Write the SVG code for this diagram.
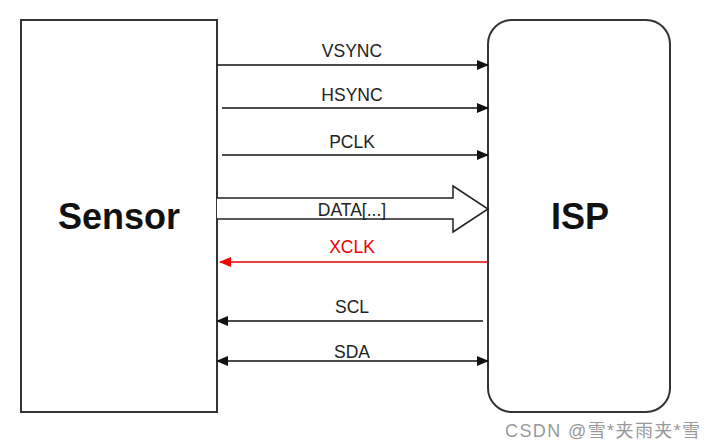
<svg xmlns="http://www.w3.org/2000/svg" width="715" height="448" viewBox="0 0 715 448">
<style>
.box{fill:#fff;stroke:#333;stroke-width:2}
.ln{stroke:#111;stroke-width:1.5;fill:none}
.red{stroke:#e00;stroke-width:1.5;fill:none}
.lbl{font-family:"Liberation Sans",Arial,sans-serif;font-size:17.5px;fill:#222;text-anchor:middle}
.big{font-family:"Liberation Sans",Arial,sans-serif;font-weight:bold;fill:#111;text-anchor:middle}
</style>
<defs>
<marker id="ah" markerWidth="12" markerHeight="12" refX="11" refY="6" orient="auto-start-reverse" markerUnits="userSpaceOnUse" viewBox="0 0 12 12"><path d="M0,1 L12,6 L0,11 Z" fill="#111"/></marker>
<marker id="ahr" markerWidth="12" markerHeight="12" refX="11" refY="6" orient="auto-start-reverse" markerUnits="userSpaceOnUse" viewBox="0 0 12 12"><path d="M0,1 L12,6 L0,11 Z" fill="#e00"/></marker>
</defs>
<rect width="715" height="448" fill="#fff"/>
<g id="sensor">
<rect class="box" x="21" y="20" width="196" height="392"/>
<text class="big" x="119" y="229" font-size="36">Sensor</text>
</g>
<g id="isp">
<rect class="box" x="488" y="20" width="182" height="392" rx="24" ry="24"/>
<text class="big" x="580" y="229" font-size="36">ISP</text>
</g>
<g id="connectors">
<line class="ln" x1="217" y1="65" x2="488" y2="65" marker-end="url(#ah)"/>
<text class="lbl" x="352" y="57">VSYNC</text>
<line class="ln" x1="222" y1="108" x2="488" y2="108" marker-end="url(#ah)"/>
<text class="lbl" x="352" y="101">HSYNC</text>
<line class="ln" x1="222" y1="155" x2="488" y2="155" marker-end="url(#ah)" stroke-width="2"/>
<text class="lbl" x="352" y="148">PCLK</text>
<path d="M217,198 L453,198 L453,186 L488,209 L453,232 L453,219 L217,219" fill="#fff" stroke="#222" stroke-width="1.5"/>
<text class="lbl" x="352" y="216">DATA[...]</text>
<line class="red" x1="488" y1="262" x2="220" y2="262" marker-end="url(#ahr)"/>
<text class="lbl" x="352" y="253" style="fill:#e00">XCLK</text>
<line class="ln" x1="483" y1="321" x2="217" y2="321" marker-end="url(#ah)"/>
<text class="lbl" x="352" y="313">SCL</text>
<line class="ln" x1="217" y1="361" x2="488" y2="361" marker-start="url(#ah)" marker-end="url(#ah)"/>
<text class="lbl" x="352" y="358">SDA</text>
</g>
<text x="505" y="437" font-family="'Liberation Sans','Noto Sans CJK SC',sans-serif" font-size="18" fill="#999" letter-spacing="1.4">CSDN @雪*夹雨夹*雪</text>
</svg>
